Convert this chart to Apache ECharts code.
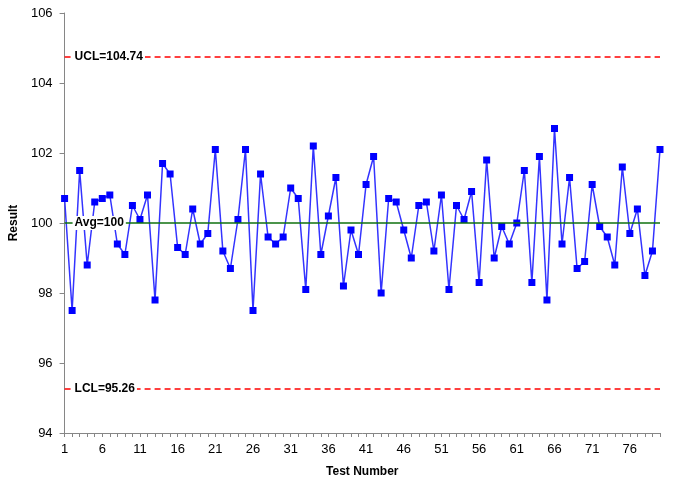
<!DOCTYPE html>
<html>
<head>
<meta charset="utf-8">
<script src="https://cdn.jsdelivr.net/npm/echarts@6/dist/echarts.min.js"></script>
<style>html,body{margin:0;padding:0;background:#fff}#c{width:675px;height:483px}</style>
</head>
<body>
<div id="c"></div>
<script>
var categories = [];
for (var i = 1; i <= 80; i++) categories.push(String(i));
var results = [100.7,97.5,101.5,98.8,100.6,100.7,100.8,99.4,99.1,100.5,
100.1,100.8,97.8,101.7,101.4,99.3,99.1,100.4,99.4,99.7,
102.1,99.2,98.7,100.1,102.1,97.5,101.4,99.6,99.4,99.6,
101.0,100.7,98.1,102.2,99.1,100.2,101.3,98.2,99.8,99.1,
101.1,101.9,98.0,100.7,100.6,99.8,99.0,100.5,100.6,99.2,
100.8,98.1,100.5,100.1,100.9,98.3,101.8,99.0,99.9,99.4,
100.0,101.5,98.3,101.9,97.8,102.7,99.4,101.3,98.7,98.9,
101.1,99.9,99.6,98.8,101.6,99.7,100.4,98.5,99.2,102.1];
var avg = 100;
var ucl = 104.74;
var lcl = 95.26;
var yTicks = [94, 96, 98, 100, 102, 104, 106];

var font = 'Liberation Sans';
function limitSeries(value, text, color, type, width) {
  return {
    type: 'line', data: [], z: 5, color: color,
    markLine: {
      silent: true, symbol: 'none', animation: false,
      lineStyle: {color: color, type: type, width: width, opacity: 1},
      label: {
        position: 'insideStartTop', distance: [8, -7],
        fontFamily: font, fontSize: 12, fontWeight: 'bold', color: '#000',
        backgroundColor: '#fff', padding: [1, 2],
        formatter: text
      },
      data: [{yAxis: value, lineStyle: {color: color}}]
    }
  };
}
var chart = echarts.init(document.getElementById('c'));
chart.setOption({
  animation: false,
  grid: {left: 63, right: 15, top: 13, bottom: 49},
  xAxis: {
    type: 'category', data: categories, boundaryGap: false,
    name: 'Test Number', nameLocation: 'middle', nameGap: 33,
    nameTextStyle: {fontFamily: font, fontSize: 12, fontWeight: 'bold', color: '#000'},
    axisLine: {lineStyle: {color: '#868686', width: 1}},
    axisTick: {show: true, interval: 0, length: 4, lineStyle: {color: '#868686'}},
    axisLabel: {interval: 4, fontFamily: font, fontSize: 13, color: '#000', margin: 10},
    splitLine: {show: false}
  },
  yAxis: {
    type: 'value', min: yTicks[0], max: yTicks[yTicks.length-1], interval: 2,
    name: 'Result', nameLocation: 'middle', nameGap: 37, nameRotate: 90,
    nameTextStyle: {fontFamily: font, fontSize: 12, fontWeight: 'bold', color: '#000'},
    axisLine: {show: true, lineStyle: {color: '#868686', width: 1}},
    axisTick: {show: true, length: 5, lineStyle: {color: '#868686'}},
    axisLabel: {fontFamily: font, fontSize: 13, color: '#000', margin: 12},
    splitLine: {show: false}
  },
  series: [
    {
      type: 'line', data: results, z: 2,
      symbol: 'rect', symbolSize: 7, showAllSymbol: true,
      lineStyle: {color: '#3333ff', width: 1.5},
      itemStyle: {color: '#0000ff'}
    },
    limitSeries(ucl, 'UCL=' + ucl, '#ff0000', [6, 4], 1.5),
    limitSeries(avg, 'Avg=' + avg, '#0f700f', 'solid', 1.5),
    limitSeries(lcl, 'LCL=' + lcl, '#ff0000', [6, 4], 1.5)
  ]
});
</script>
</body>
</html>
